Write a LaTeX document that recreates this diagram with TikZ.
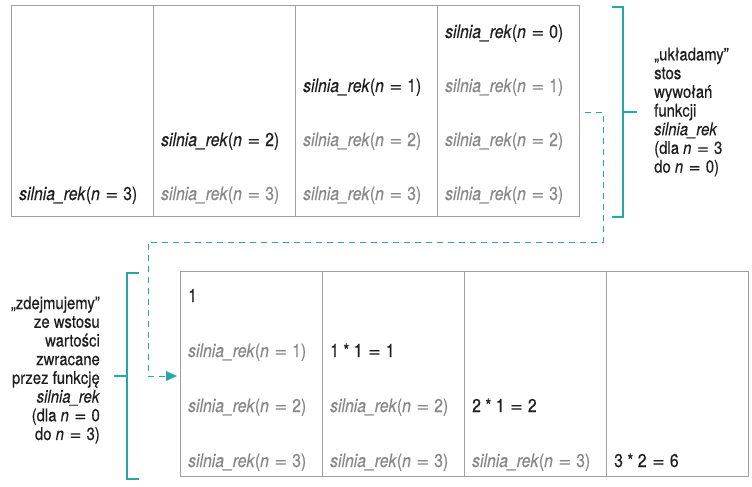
\documentclass[tikz,border=0pt]{standalone}
\usepackage{fontspec}
\usepackage{graphicx}
\setmainfont{TeX Gyre Heros}[FakeStretch=0.85,FakeBold=0.4]
\usetikzlibrary{arrows.meta}
\definecolor{tealc}{RGB}{38,168,168}
\definecolor{gridc}{RGB}{160,160,160}
\definecolor{darkc}{RGB}{30,30,30}
\definecolor{lightc}{RGB}{135,135,135}
\newcommand{\wq}{\hspace{5.5pt}\scalebox{1.4}[1]{=}\hspace{5pt}}
\newcommand{\sr}[1]{\textit{silnia\_rek}(\textit{n}\wq#1)}
\tikzset{
  tbl/.style={draw=gridc, line width=0.9pt},
  cur/.style={anchor=base west, inner sep=0pt, text=darkc, font=\fontsize{18.5}{20}\selectfont},
  old/.style={anchor=base west, inner sep=0pt, text=lightc, font=\fontsize{18.5}{20}\selectfont},
  brk/.style={draw=tealc, line width=1.2pt},
  dsh/.style={draw=tealc, line width=1pt, dash pattern=on 6pt off 5pt},
  side/.style={inner sep=0pt, text=darkc, font=\fontsize{17.5}{18.7}\selectfont}
}
\begin{document}
\begin{tikzpicture}[x=1pt,y=-1pt]
\useasboundingbox (0,0) rectangle (752,487);
% top table
\draw[tbl] (11,5) rectangle (579,216);
\foreach \x in {153,295,437} \draw[tbl] (\x,5) -- (\x,216);
% top table texts
\node[cur] (t13) at (19,200) {\sr{3}};
\node[cur] (t22) at (161,146) {\sr{2}};
\node[old] (t23) at (161,200) {\sr{3}};
\node[cur] (t31) at (303,92) {\sr{1}};
\node[old] (t32) at (303,146) {\sr{2}};
\node[old] (t33) at (303,200) {\sr{3}};
\node[cur] (t40) at (445,38) {\sr{0}};
\node[old] (t41) at (445,92) {\sr{1}};
\node[old] (t42) at (445,146) {\sr{2}};
\node[old] (t43) at (445,200) {\sr{3}};
% bottom table
\draw[tbl] (180,271) rectangle (748,476);
\foreach \x in {322,464,606} \draw[tbl] (\x,271) -- (\x,476);
\node[cur] (b10) at (188,302) {1};
\node[old] (b11) at (188,357) {\sr{1}};
\node[old] (b12) at (188,412) {\sr{2}};
\node[old] (b13) at (188,467) {\sr{3}};
\node[cur] (b21) at (330,357) {1 * 1\wq 1};
\node[old] (b22) at (330,412) {\sr{2}};
\node[old] (b23) at (330,467) {\sr{3}};
\node[cur] (b32) at (472,412) {2 * 1\wq 2};
\node[old] (b33) at (472,467) {\sr{3}};
\node[cur] (b43) at (614,467) {3 * 2\wq 6};
% top bracket
\draw[brk] (612,7) -- (623,7) -- (623,217) -- (612,217);
\draw[brk] (623,112) -- (637,112);
\node[side, anchor=west, align=left] (rt) at (654,112)
  {„układamy”\\stos\\wywołań\\funkcji\\\textit{silnia\_rek}\\(dla \textit{n}\wq 3\\do \textit{n}\wq 0)};
% bottom bracket
\draw[brk] (139,273) -- (127,273) -- (127,479) -- (139,479);
\draw[brk] (127,376) -- (114,376);
\node[side, anchor=east, align=right] (lt) at (100,370)
  {„zdejmujemy”\\ze wstosu\\wartości\\zwracane\\przez funkcję\\\textit{silnia\_rek}\\(dla \textit{n}\wq 0\\do \textit{n}\wq 3)};
% dashed connector
\coordinate (d0) at (585,112);
\coordinate (d1) at (603,112);
\coordinate (d2) at (603,242);
\coordinate (d3) at (148,242);
\coordinate (d4) at (148,376);
\coordinate (d5) at (177,376);
\draw[dsh] (d0) -- (d1) -- (d2) -- (d3) -- (d4) -- ([xshift=-8pt]d5);
\fill[tealc] (d5) -- ++(-11,-5) -- ++(0,10) -- cycle;
\end{tikzpicture}
\end{document}
